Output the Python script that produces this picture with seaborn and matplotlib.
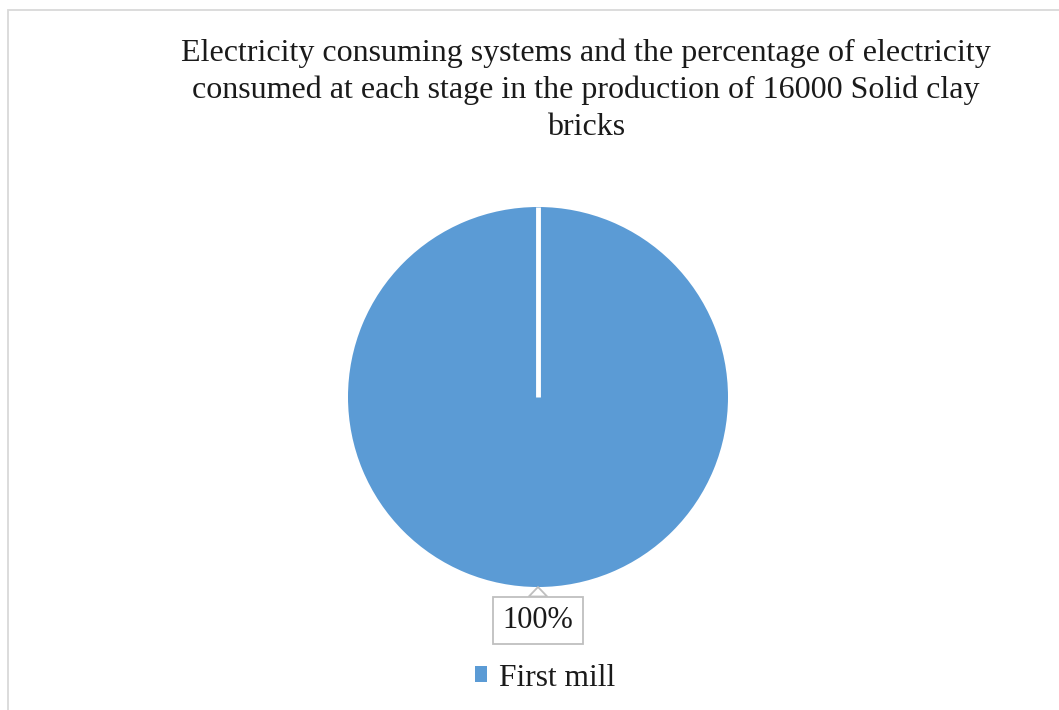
import matplotlib
matplotlib.use("Agg")
import matplotlib.pyplot as plt
from matplotlib.patches import Rectangle
import numpy as np
import seaborn as sns

# Electricity share by consuming system
systems = ["First mill"]
shares = [100]
slice_colors = ["#5B9BD5"]
title_text = ("Electricity consuming systems and the percentage of electricity\n"
              "consumed at each stage in the production of 16000 Solid clay\n"
              "bricks")

sns.set_theme(style="white")
plt.rcParams["font.family"] = ["Liberation Serif", "DejaVu Serif"]

fig = plt.figure(figsize=(10.59, 7.10), dpi=100)
fig.patch.set_facecolor("white")

# chart-area border (open on the right and bottom edges of the image)
fig.add_artist(Rectangle((8 / 1059, -0.5), 1.5, 0.5 + (1 - 10 / 710),
                         transform=fig.transFigure, fill=False,
                         edgecolor="#d9d9d9", linewidth=1.3, clip_on=False))

ax = fig.add_axes([300.5 / 1059, 75.5 / 710, 475 / 1059, 475 / 710])
wedges, _ = ax.pie(shares, colors=slice_colors, startangle=90, counterclock=False,
                   radius=1.0, wedgeprops=dict(linewidth=0))
ax.set_xlim(-1.25, 1.25)
ax.set_ylim(-1.25, 1.25)
ax.set_aspect("equal")
ax.axis("off")

# white slice boundary from the centre to the starting edge
w = wedges[0]
cx, cy = w.center
start = np.deg2rad(90)
ax.plot([cx, cx + w.r * np.cos(start)], [cy, cy + w.r * np.sin(start)],
        color="white", linewidth=3.5, solid_capstyle="butt", zorder=3)

# percentage callout below the pie
ax.annotate(f"{shares[0]}%", xy=(cx, cy - w.r), xytext=(cx, cy - 1.178),
            ha="center", va="center", fontsize=22, color="#1a1a1a",
            bbox=dict(boxstyle="square,pad=0.3", facecolor="white",
                      edgecolor="#bfbfbf", linewidth=1.3),
            arrowprops=dict(arrowstyle="wedge,tail_width=0.6,shrink_factor=0.5",
                            facecolor="white", edgecolor="#bfbfbf", linewidth=1.3,
                            shrinkA=0, shrinkB=0),
            annotation_clip=False)

fig.text(586 / 1059, 1 - 39 / 710, title_text, ha="center", va="top",
         fontsize=23, color="#1a1a1a", linespacing=1.33)

handles = [Rectangle((0, 0), 1, 1, facecolor=c, edgecolor="none") for c in slice_colors]
fig.legend(handles, systems, loc="center", bbox_to_anchor=(545 / 1059, 1 - 678 / 710),
           frameon=False, fontsize=22.7, handlelength=0.38, handleheight=0.38,
           handletextpad=0.4, labelcolor="#1a1a1a")

fig.savefig("out.png", dpi=100, facecolor="white")
